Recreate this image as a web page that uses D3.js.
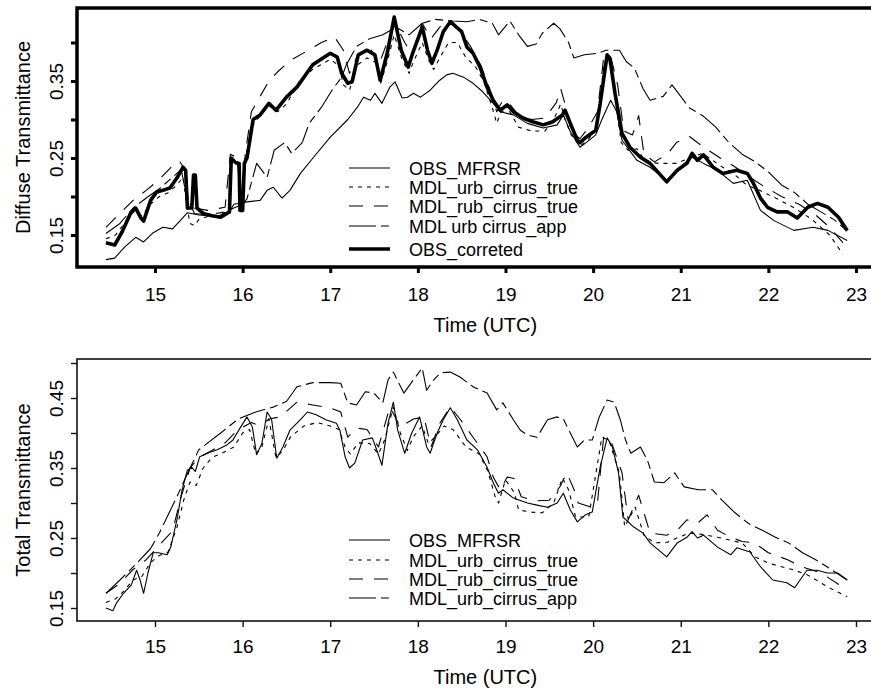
<!DOCTYPE html>
<html>
<head>
<meta charset="utf-8">
<script src="https://cdn.jsdelivr.net/npm/d3@7"></script>
<style>
  body { margin: 0; background: #fff; }
  svg text { font-family: "Liberation Sans", Arial, Helvetica, sans-serif; fill: #000; }
</style>
</head>
<body>
<svg id="chart" width="871" height="690"></svg>
<script>
// ---- data: [time UTC, transmittance] ----
const diffObsMfrsr = [[14.44,0.118],[14.54,0.12],[14.65,0.134],[14.78,0.147],[14.87,0.141],[14.98,0.153],[15.09,0.16],[15.2,0.158],[15.29,0.169],[15.37,0.179],[15.5,0.176],[15.7,0.174],[15.85,0.18],[15.9,0.19],[16.05,0.193],[16.2,0.195],[16.28,0.208],[16.35,0.212],[16.45,0.198],[16.54,0.208],[16.66,0.23],[16.81,0.251],[17.0,0.277],[17.2,0.30],[17.31,0.316],[17.38,0.329],[17.46,0.325],[17.51,0.334],[17.59,0.321],[17.68,0.342],[17.74,0.349],[17.82,0.328],[17.88,0.329],[17.95,0.334],[18.03,0.329],[18.14,0.338],[18.25,0.351],[18.33,0.358],[18.4,0.36],[18.52,0.355],[18.63,0.347],[18.74,0.336],[18.86,0.321],[18.94,0.31],[19.09,0.306],[19.25,0.295],[19.43,0.289],[19.59,0.293],[19.66,0.306],[19.74,0.284],[19.85,0.264],[19.92,0.27],[20.03,0.28],[20.1,0.30],[20.2,0.325],[20.27,0.31],[20.33,0.273],[20.5,0.247],[20.65,0.238],[20.84,0.221],[20.99,0.238],[21.13,0.251],[21.26,0.243],[21.42,0.234],[21.6,0.217],[21.76,0.221],[21.91,0.182],[22.06,0.169],[22.29,0.156],[22.51,0.16],[22.68,0.156],[22.9,0.143]];

const diffUrbTrue = [[14.44,0.145],[14.55,0.15],[14.65,0.165],[14.75,0.18],[14.85,0.175],[14.95,0.19],[15.05,0.2],[15.15,0.205],[15.25,0.215],[15.32,0.225],[15.36,0.19],[15.4,0.165],[15.45,0.162],[15.5,0.17],[15.6,0.174],[15.75,0.176],[15.85,0.183],[15.88,0.245],[15.95,0.24],[15.98,0.185],[16.02,0.24],[16.1,0.29],[16.2,0.305],[16.3,0.318],[16.4,0.31],[16.5,0.32],[16.65,0.35],[16.8,0.365],[17.0,0.378],[17.1,0.37],[17.15,0.345],[17.22,0.338],[17.3,0.37],[17.42,0.38],[17.52,0.374],[17.57,0.345],[17.65,0.375],[17.73,0.41],[17.82,0.378],[17.9,0.36],[17.95,0.375],[18.05,0.4],[18.12,0.378],[18.18,0.365],[18.25,0.38],[18.35,0.40],[18.45,0.40],[18.55,0.38],[18.65,0.37],[18.75,0.35],[18.85,0.315],[18.9,0.295],[18.95,0.31],[19.05,0.31],[19.15,0.29],[19.3,0.285],[19.45,0.285],[19.55,0.30],[19.63,0.32],[19.68,0.30],[19.75,0.28],[19.85,0.265],[19.95,0.275],[20.05,0.29],[20.12,0.37],[20.18,0.38],[20.25,0.33],[20.32,0.27],[20.4,0.26],[20.5,0.262],[20.6,0.245],[20.75,0.243],[20.95,0.243],[21.1,0.25],[21.25,0.256],[21.45,0.24],[21.6,0.23],[21.75,0.215],[21.9,0.208],[22.1,0.197],[22.3,0.185],[22.5,0.17],[22.7,0.15],[22.85,0.125]];

const diffRubTrue = [[14.44,0.16],[14.6,0.178],[14.75,0.195],[14.9,0.208],[15.05,0.222],[15.2,0.24],[15.28,0.246],[15.34,0.235],[15.38,0.195],[15.45,0.185],[15.6,0.182],[15.8,0.186],[15.86,0.255],[15.94,0.25],[15.98,0.19],[16.03,0.255],[16.1,0.31],[16.2,0.33],[16.3,0.35],[16.4,0.362],[16.55,0.377],[16.75,0.39],[16.9,0.40],[17.05,0.407],[17.15,0.39],[17.22,0.36],[17.3,0.38],[17.45,0.395],[17.55,0.37],[17.65,0.40],[17.74,0.425],[17.85,0.40],[17.93,0.385],[18.05,0.425],[18.15,0.405],[18.25,0.42],[18.37,0.428],[18.48,0.415],[18.6,0.395],[18.72,0.37],[18.82,0.34],[18.9,0.31],[18.97,0.325],[19.05,0.32],[19.15,0.305],[19.3,0.3],[19.45,0.302],[19.58,0.322],[19.63,0.34],[19.68,0.32],[19.75,0.285],[19.85,0.275],[19.95,0.29],[20.05,0.31],[20.12,0.38],[20.2,0.382],[20.28,0.345],[20.35,0.285],[20.45,0.28],[20.52,0.305],[20.58,0.255],[20.7,0.245],[20.85,0.255],[20.95,0.27],[21.1,0.278],[21.25,0.265],[21.45,0.25],[21.6,0.24],[21.75,0.228],[21.95,0.213],[22.15,0.2],[22.35,0.19],[22.55,0.175],[22.7,0.16],[22.85,0.14]];

const diffUrbApp = [[14.44,0.152],[14.6,0.165],[14.75,0.185],[14.9,0.198],[15.05,0.21],[15.2,0.225],[15.3,0.235],[15.36,0.2],[15.45,0.178],[15.6,0.176],[15.8,0.18],[15.9,0.185],[16.0,0.19],[16.05,0.197],[16.16,0.243],[16.28,0.225],[16.36,0.26],[16.48,0.27],[16.56,0.256],[16.68,0.27],[16.76,0.295],[16.9,0.316],[17.02,0.338],[17.13,0.355],[17.18,0.37],[17.3,0.395],[17.45,0.405],[17.6,0.41],[17.75,0.42],[17.9,0.41],[18.05,0.425],[18.2,0.43],[18.4,0.428],[18.56,0.427],[18.7,0.43],[18.85,0.425],[18.92,0.41],[19.05,0.428],[19.15,0.41],[19.25,0.395],[19.35,0.398],[19.42,0.412],[19.55,0.425],[19.62,0.418],[19.72,0.40],[19.78,0.38],[19.9,0.384],[20.05,0.386],[20.15,0.39],[20.3,0.39],[20.38,0.375],[20.47,0.367],[20.57,0.34],[20.65,0.325],[20.8,0.33],[20.9,0.345],[21.0,0.33],[21.1,0.315],[21.25,0.305],[21.4,0.29],[21.55,0.27],[21.7,0.255],[21.85,0.245],[22.0,0.232],[22.15,0.215],[22.3,0.205],[22.45,0.19],[22.6,0.18],[22.75,0.17],[22.9,0.155]];

const diffObsCorrected = [[14.44,0.140],[14.54,0.137],[14.62,0.153],[14.72,0.178],[14.78,0.185],[14.84,0.172],[14.87,0.168],[14.95,0.195],[15.02,0.206],[15.09,0.208],[15.17,0.211],[15.25,0.224],[15.32,0.238],[15.35,0.234],[15.37,0.185],[15.42,0.185],[15.44,0.228],[15.46,0.228],[15.48,0.185],[15.55,0.178],[15.65,0.175],[15.75,0.173],[15.85,0.180],[15.87,0.250],[15.92,0.244],[15.96,0.243],[15.97,0.182],[16.0,0.182],[16.02,0.243],[16.05,0.25],[16.12,0.300],[16.2,0.306],[16.3,0.321],[16.38,0.312],[16.5,0.329],[16.62,0.342],[16.8,0.371],[17.0,0.386],[17.08,0.381],[17.13,0.360],[17.2,0.347],[17.25,0.349],[17.32,0.384],[17.42,0.39],[17.51,0.384],[17.57,0.351],[17.65,0.386],[17.73,0.433],[17.81,0.39],[17.89,0.368],[17.94,0.386],[18.05,0.42],[18.11,0.39],[18.16,0.373],[18.22,0.39],[18.29,0.414],[18.37,0.427],[18.45,0.419],[18.5,0.414],[18.56,0.394],[18.63,0.386],[18.71,0.368],[18.79,0.342],[18.86,0.325],[18.94,0.312],[19.02,0.319],[19.09,0.31],[19.2,0.302],[19.31,0.297],[19.43,0.293],[19.54,0.297],[19.65,0.306],[19.68,0.312],[19.74,0.295],[19.82,0.273],[19.85,0.27],[19.92,0.277],[20.03,0.286],[20.08,0.32],[20.16,0.384],[20.19,0.38],[20.25,0.334],[20.33,0.282],[20.42,0.264],[20.54,0.251],[20.65,0.243],[20.84,0.219],[20.96,0.234],[21.07,0.243],[21.13,0.256],[21.19,0.247],[21.26,0.254],[21.37,0.238],[21.48,0.23],[21.64,0.234],[21.76,0.23],[21.83,0.217],[21.91,0.198],[21.99,0.186],[22.1,0.18],[22.22,0.18],[22.33,0.172],[22.45,0.186],[22.56,0.191],[22.68,0.186],[22.8,0.173],[22.9,0.156]];

const totObsMfrsr = [[14.44,0.15],[14.52,0.146],[14.56,0.157],[14.64,0.171],[14.73,0.183],[14.79,0.204],[14.83,0.19],[14.87,0.171],[14.92,0.2],[14.98,0.229],[15.04,0.229],[15.14,0.226],[15.18,0.237],[15.25,0.276],[15.31,0.319],[15.37,0.347],[15.42,0.351],[15.46,0.345],[15.51,0.366],[15.62,0.372],[15.71,0.376],[15.82,0.383],[15.89,0.39],[15.97,0.407],[16.05,0.423],[16.11,0.409],[16.16,0.369],[16.22,0.385],[16.28,0.43],[16.33,0.42],[16.39,0.364],[16.46,0.38],[16.54,0.404],[16.66,0.419],[16.74,0.43],[16.84,0.426],[16.95,0.419],[17.07,0.414],[17.11,0.404],[17.17,0.366],[17.22,0.35],[17.28,0.357],[17.37,0.39],[17.48,0.393],[17.53,0.376],[17.59,0.354],[17.66,0.414],[17.72,0.444],[17.77,0.404],[17.85,0.371],[17.93,0.40],[18.02,0.423],[18.1,0.38],[18.14,0.371],[18.22,0.40],[18.29,0.419],[18.37,0.436],[18.45,0.419],[18.56,0.39],[18.68,0.376],[18.79,0.351],[18.86,0.329],[18.92,0.314],[18.97,0.319],[19.09,0.307],[19.25,0.30],[19.36,0.297],[19.48,0.294],[19.59,0.30],[19.66,0.314],[19.74,0.29],[19.82,0.273],[19.91,0.283],[19.99,0.287],[20.08,0.351],[20.16,0.393],[20.22,0.38],[20.29,0.343],[20.34,0.28],[20.46,0.266],[20.57,0.257],[20.65,0.243],[20.84,0.223],[20.96,0.243],[21.07,0.251],[21.13,0.259],[21.19,0.25],[21.26,0.254],[21.42,0.237],[21.57,0.226],[21.64,0.236],[21.79,0.23],[21.91,0.209],[22.05,0.19],[22.21,0.186],[22.3,0.179],[22.44,0.204],[22.56,0.204],[22.67,0.2],[22.79,0.2],[22.9,0.19]];

const totUrbTrue = [[14.44,0.158],[14.55,0.163],[14.65,0.175],[14.75,0.19],[14.85,0.195],[14.95,0.215],[15.05,0.225],[15.15,0.23],[15.25,0.265],[15.33,0.305],[15.4,0.33],[15.47,0.325],[15.55,0.35],[15.65,0.365],[15.78,0.372],[15.9,0.38],[16.0,0.4],[16.08,0.405],[16.15,0.37],[16.22,0.38],[16.3,0.42],[16.38,0.365],[16.46,0.375],[16.55,0.395],[16.7,0.41],[16.85,0.415],[17.0,0.41],[17.1,0.405],[17.17,0.38],[17.23,0.37],[17.32,0.386],[17.45,0.385],[17.55,0.37],[17.62,0.39],[17.72,0.437],[17.8,0.40],[17.88,0.375],[17.95,0.395],[18.05,0.41],[18.12,0.385],[18.2,0.395],[18.3,0.41],[18.4,0.405],[18.55,0.38],[18.7,0.37],[18.8,0.345],[18.88,0.31],[18.92,0.30],[19.0,0.333],[19.1,0.315],[19.15,0.29],[19.3,0.287],[19.42,0.286],[19.55,0.30],[19.65,0.336],[19.72,0.319],[19.8,0.28],[19.95,0.28],[20.1,0.394],[20.18,0.39],[20.3,0.343],[20.36,0.266],[20.48,0.294],[20.58,0.254],[20.7,0.243],[20.85,0.244],[20.97,0.251],[21.1,0.257],[21.26,0.255],[21.42,0.251],[21.56,0.247],[21.7,0.243],[21.85,0.223],[22.0,0.214],[22.15,0.209],[22.3,0.204],[22.45,0.197],[22.68,0.18],[22.9,0.166]];

const totRubTrue = [[14.44,0.171],[14.6,0.185],[14.75,0.205],[14.9,0.219],[15.05,0.24],[15.2,0.26],[15.3,0.31],[15.4,0.35],[15.5,0.365],[15.65,0.375],[15.8,0.386],[15.95,0.405],[16.1,0.415],[16.2,0.41],[16.3,0.42],[16.43,0.423],[16.62,0.444],[16.8,0.44],[17.0,0.436],[17.12,0.43],[17.2,0.394],[17.3,0.407],[17.42,0.405],[17.55,0.38],[17.68,0.437],[17.8,0.409],[17.95,0.42],[18.07,0.423],[18.15,0.38],[18.25,0.414],[18.37,0.437],[18.48,0.42],[18.63,0.394],[18.79,0.366],[18.86,0.337],[18.94,0.319],[19.02,0.337],[19.1,0.335],[19.18,0.309],[19.33,0.303],[19.5,0.304],[19.62,0.323],[19.7,0.343],[19.78,0.32],[19.83,0.30],[19.98,0.294],[20.05,0.3],[20.12,0.394],[20.2,0.39],[20.33,0.343],[20.4,0.276],[20.52,0.311],[20.58,0.286],[20.65,0.257],[20.84,0.254],[20.96,0.261],[21.07,0.276],[21.19,0.271],[21.3,0.283],[21.42,0.261],[21.57,0.251],[21.7,0.245],[21.84,0.243],[22.0,0.229],[22.22,0.219],[22.38,0.209],[22.6,0.2],[22.9,0.176]];

const totUrbApp = [[14.44,0.171],[14.6,0.19],[14.8,0.215],[14.95,0.235],[15.05,0.257],[15.25,0.309],[15.4,0.35],[15.5,0.376],[15.75,0.4],[15.95,0.42],[16.15,0.43],[16.35,0.437],[16.5,0.445],[16.62,0.466],[16.8,0.472],[17.0,0.472],[17.12,0.471],[17.2,0.443],[17.3,0.44],[17.4,0.459],[17.5,0.457],[17.6,0.443],[17.66,0.476],[17.72,0.487],[17.84,0.457],[17.95,0.476],[18.05,0.493],[18.1,0.461],[18.18,0.476],[18.26,0.486],[18.37,0.487],[18.48,0.48],[18.63,0.466],[18.79,0.457],[18.9,0.433],[18.97,0.443],[19.09,0.419],[19.17,0.404],[19.25,0.397],[19.36,0.394],[19.48,0.419],[19.59,0.423],[19.66,0.42],[19.74,0.4],[19.82,0.38],[19.9,0.39],[19.99,0.39],[20.07,0.423],[20.16,0.447],[20.24,0.444],[20.31,0.419],[20.37,0.39],[20.43,0.371],[20.54,0.38],[20.62,0.361],[20.7,0.33],[20.81,0.329],[20.93,0.343],[21.04,0.323],[21.2,0.319],[21.36,0.319],[21.47,0.304],[21.62,0.286],[21.77,0.271],[21.93,0.261],[22.08,0.251],[22.23,0.243],[22.39,0.229],[22.54,0.219],[22.73,0.204],[22.9,0.19]];

// axis ticks and labels
const timeTicks = [15, 16, 17, 18, 19, 20, 21, 22, 23];
const diffYTicks = [0.15, 0.20, 0.25, 0.30, 0.35, 0.40];
const diffYLabels = [0.15, 0.25, 0.35];
const totYTicks = [0.15, 0.20, 0.25, 0.30, 0.35, 0.40, 0.45, 0.50];
const totYLabels = [0.15, 0.25, 0.35, 0.45];
const topLegendNames = ['OBS_MFRSR', 'MDL_urb_cirrus_true', 'MDL_rub_cirrus_true', 'MDL urb cirrus_app', 'OBS_correted'];
const bottomLegendNames = ['OBS_MFRSR', 'MDL_urb_cirrus_true', 'MDL_rub_cirrus_true', 'MDL_urb_cirrus_app'];

// line styles
const styles = {
    solid:  { dash: null,       width: 1.1 },
    dotted: { dash: '4,5',      width: 1.1 },
    dashed: { dash: '14,11',    width: 1.1 },
    app:    { dash: '27,5,8,5', width: 1.1 },
    thick:  { dash: null,       width: 3.6 }
};

const svg = d3.select('#chart');

const x = d3.scaleLinear().domain([14.110, 23.274]).range([77, 880]);

const drawPanel = (cfg) => {
    const y = d3.scaleLinear().domain(cfg.yDomain).range([cfg.bottom, cfg.top]);
    const g = svg.append('g');

    const line = d3.line()
        .x(d => x(d[0]))
        .y(d => y(d[1]));

    cfg.series.forEach(s => {
        const st = styles[s.style];
        g.append('path')
            .datum(s.data)
            .attr('fill', 'none')
            .attr('stroke', '#000')
            .attr('stroke-width', st.width)
            .attr('stroke-linejoin', 'round')
            .attr('stroke-dasharray', st.dash)
            .attr('d', line);
    });

    // box
    g.append('rect')
        .attr('x', 77)
        .attr('y', cfg.top)
        .attr('width', 820)
        .attr('height', cfg.bottom - cfg.top)
        .attr('fill', 'none')
        .attr('stroke', cfg.boxColor)
        .attr('stroke-width', cfg.boxWidth);

    // x axis
    const xAxis = g.append('g')
        .attr('transform', `translate(0,${cfg.bottom})`)
        .call(d3.axisBottom(x).tickValues(timeTicks).tickSize(cfg.tickLen).tickPadding(0).tickFormat(d3.format('d')));
    xAxis.select('.domain').remove();
    xAxis.selectAll('line').attr('stroke', cfg.boxColor).attr('stroke-width', cfg.tickWidth);
    xAxis.selectAll('text')
        .attr('y', cfg.xLabelY)
        .attr('dy', 0)
        .attr('font-size', 19)
        .attr('font-family', '"Liberation Sans", Arial, sans-serif')
        .attr('fill', '#000');

    // y axis
    const yAxis = g.append('g')
        .attr('transform', 'translate(77,0)')
        .call(d3.axisLeft(y).tickValues(cfg.yTicks).tickSize(cfg.tickLen)
            .tickFormat(d => cfg.yLabels.some(v => Math.abs(v - d) < 1e-9) ? d3.format('.2f')(d) : ''));
    yAxis.select('.domain').remove();
    yAxis.selectAll('line').attr('stroke', cfg.boxColor).attr('stroke-width', cfg.tickWidth);
    yAxis.selectAll('text')
        .attr('x', 0)
        .attr('dy', 0)
        .attr('transform', 'translate(-14,0) rotate(-90)')
        .attr('text-anchor', 'middle')
        .attr('font-size', 19)
        .attr('font-family', '"Liberation Sans", Arial, sans-serif')
        .attr('fill', '#000');

    // axis titles
    g.append('text')
        .attr('x', x(18.77))
        .attr('y', cfg.bottom + cfg.titleOffset)
        .attr('text-anchor', 'middle')
        .attr('font-size', 20)
        .text('Time (UTC)');

    g.append('text')
        .attr('transform', `translate(30,${(cfg.top + cfg.bottom) / 2}) rotate(-90)`)
        .attr('text-anchor', 'middle')
        .attr('font-size', 20)
        .text(cfg.yTitle);

    // legend
    const leg = g.append('g');
    cfg.legend.forEach((item, i) => {
        const st = styles[item.style];
        const ly = cfg.legendRows[i];
        leg.append('line')
            .attr('x1', 349).attr('x2', 390)
            .attr('y1', ly).attr('y2', ly)
            .attr('stroke', '#000')
            .attr('stroke-width', st.width)
            .attr('stroke-dasharray', st.dash);
        leg.append('text')
            .attr('x', 409)
            .attr('y', ly + 6.5)
            .attr('font-size', 18)
            .text(item.name);
    });
};

drawPanel({
    top: 8, bottom: 267,
    yDomain: [0.10844, 0.44481],
    yTicks: diffYTicks, yLabels: diffYLabels,
    yTitle: 'Diffuse Transmittance',
    boxColor: '#000', boxWidth: 3.5, tickWidth: 3, tickLen: 6,
    xLabelY: 34, titleOffset: 65,
    series: [
        { data: diffObsMfrsr, style: 'solid' },
        { data: diffUrbTrue, style: 'dotted' },
        { data: diffRubTrue, style: 'dashed' },
        { data: diffUrbApp, style: 'app' },
        { data: diffObsCorrected, style: 'thick' }
    ],
    legend: [
        { name: topLegendNames[0], style: 'solid' },
        { name: topLegendNames[1], style: 'dotted' },
        { name: topLegendNames[2], style: 'dashed' },
        { name: topLegendNames[3], style: 'app' },
        { name: topLegendNames[4], style: 'thick' }
    ],
    legendRows: [168, 187, 206, 226, 249]
});

drawPanel({
    top: 359, bottom: 621,
    yDomain: [0.13143, 0.50571],
    yTicks: totYTicks, yLabels: totYLabels,
    yTitle: 'Total Transmittance',
    boxColor: '#111', boxWidth: 1.6, tickWidth: 1.4, tickLen: 6,
    xLabelY: 32, titleOffset: 63,
    series: [
        { data: totObsMfrsr, style: 'solid' },
        { data: totUrbTrue, style: 'dotted' },
        { data: totRubTrue, style: 'dashed' },
        { data: totUrbApp, style: 'app' }
    ],
    legend: [
        { name: bottomLegendNames[0], style: 'solid' },
        { name: bottomLegendNames[1], style: 'dotted' },
        { name: bottomLegendNames[2], style: 'dashed' },
        { name: bottomLegendNames[3], style: 'app' }
    ],
    legendRows: [540, 560, 579, 598]
});
</script>
</body>
</html>
